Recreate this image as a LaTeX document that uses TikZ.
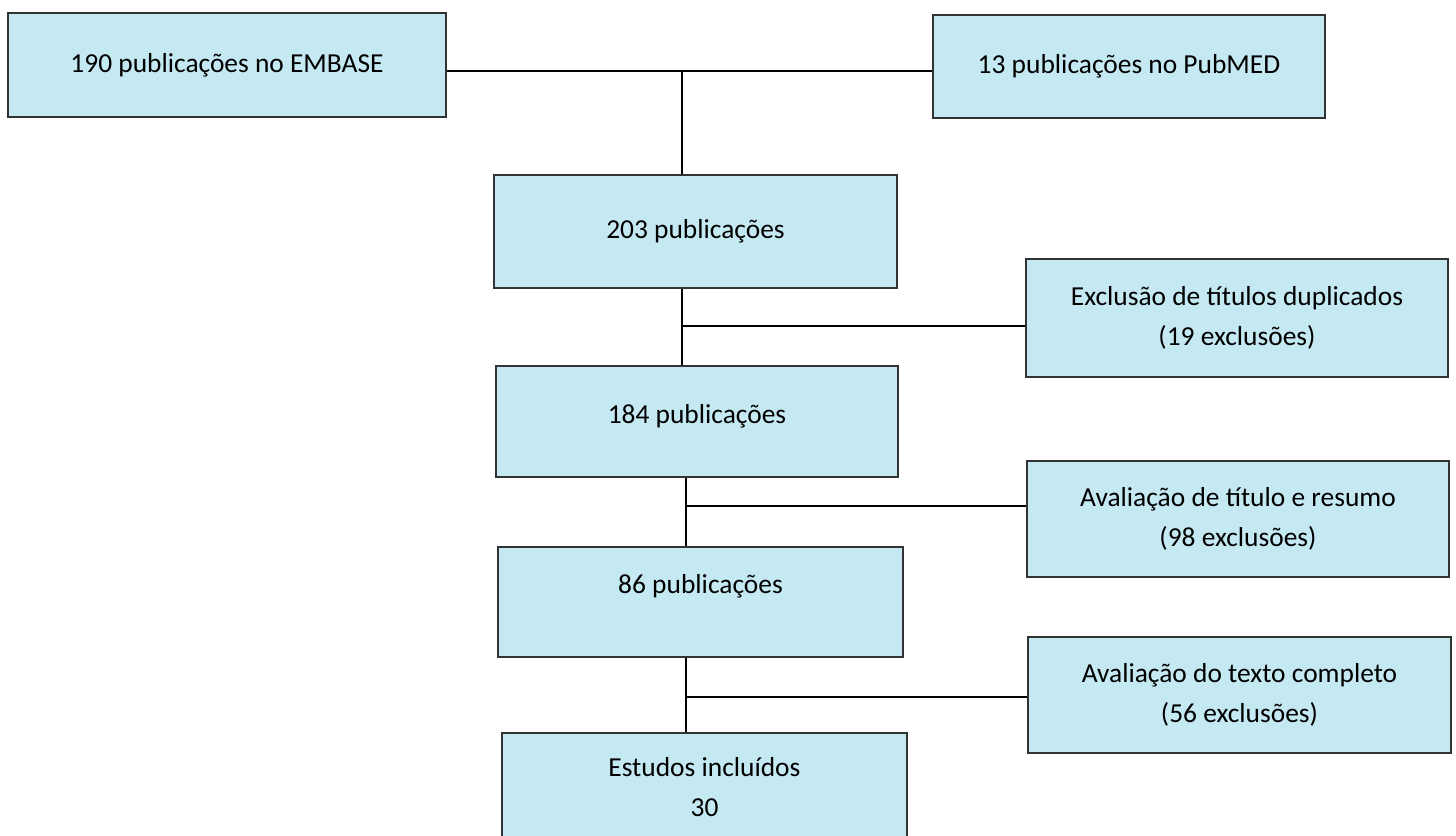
\documentclass[tikz,border=0pt]{standalone}
\usepackage{fontspec}
\setmainfont{Carlito}
\usepackage{xcolor}
\usetikzlibrary{positioning}
\definecolor{boxblue}{HTML}{C5E9F3}
\definecolor{edge}{HTML}{333333}

\begin{document}
\begin{tikzpicture}[
  x=0.01cm, y=-0.01cm, font=\fontsize{7.8}{11.3}\selectfont,
  box/.style={draw=edge,fill=boxblue,line width=0.55pt,inner sep=0pt,align=center},
  ln/.style={black,line width=0.4pt}
]
\useasboundingbox (0,0) rectangle (1456,835);
% sources
\node[box,minimum width=4.38cm,minimum height=1.04cm] (emb) at (227,65) {190 publicações no EMBASE};
\node[box,minimum width=3.92cm,minimum height=1.03cm] (pub) at (1129,66.5) {13 publicações no PubMED};
% main column
\node[box,minimum width=4.03cm,minimum height=1.13cm] (p203) at (695.5,231.5) {203 publicações};
\node[box,minimum width=4.01cm,minimum height=1.11cm,text depth=0.15cm] (p184) at (697,421.5) {184 publicações};
\node[box,minimum width=4.05cm,minimum height=1.10cm,text depth=0.36cm] (p86) at (700.5,602) {86 publicações};
\node[box,minimum width=4.05cm,minimum height=1.08cm] (inc) at (704.5,787) {Estudos incluídos\\30};
% exclusions
\node[box,minimum width=4.22cm,minimum height=1.18cm] (exc1) at (1237,318) {Exclusão de títulos duplicados\\(19 exclusões)};
\node[box,minimum width=4.22cm,minimum height=1.16cm] (exc2) at (1238,519) {Avaliação de título e resumo\\(98 exclusões)};
\node[box,minimum width=4.23cm,minimum height=1.16cm] (exc3) at (1239.5,695) {Avaliação do texto completo\\(56 exclusões)};
% connectors
\coordinate (j0) at (682,71);
\coordinate (j1) at (682,326);
\coordinate (j2) at (686,506);
\coordinate (j3) at (686,697);
\draw[ln] (emb.east |- j0) -- (pub.west |- j0);
\draw[ln] (j0) -- (j0 |- p203.north);
\draw[ln] (j1 |- p203.south) -- (j1 |- p184.north);
\draw[ln] (j1) -- (exc1.west |- j1);
\draw[ln] (j2 |- p184.south) -- (j2 |- p86.north);
\draw[ln] (j2) -- (exc2.west |- j2);
\draw[ln] (j3 |- p86.south) -- (j3 |- inc.north);
\draw[ln] (j3) -- (exc3.west |- j3);
\end{tikzpicture}
\end{document}
